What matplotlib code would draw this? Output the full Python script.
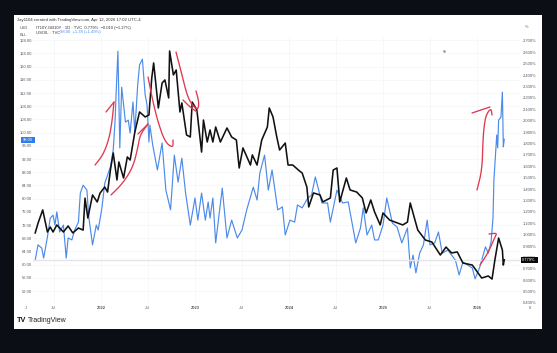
import numpy as np
import matplotlib
matplotlib.use('Agg')
import matplotlib.pyplot as plt
from matplotlib.lines import Line2D
from matplotlib.patches import Rectangle

W, H = 557, 353

oil_dates = [2021.30, 2021.33, 2021.37, 2021.39, 2021.43, 2021.46, 2021.49, 2021.51, 2021.53, 2021.56, 2021.60,
             2021.63, 2021.65, 2021.69, 2021.72, 2021.76, 2021.78, 2021.81, 2021.85, 2021.87, 2021.91, 2021.95,
             2021.97, 2022.01, 2022.04, 2022.10, 2022.13, 2022.15, 2022.16, 2022.18, 2022.20, 2022.22, 2022.26,
             2022.29, 2022.31, 2022.34, 2022.36, 2022.39, 2022.41, 2022.44, 2022.47, 2022.49, 2022.51, 2022.52,
             2022.55, 2022.60, 2022.65, 2022.69, 2022.74, 2022.78, 2022.82, 2022.86, 2022.90, 2022.95, 2023.00,
             2023.03, 2023.07, 2023.11, 2023.14, 2023.16, 2023.19, 2023.22, 2023.29, 2023.34, 2023.39, 2023.45,
             2023.50, 2023.55, 2023.62, 2023.66, 2023.69, 2023.74, 2023.78, 2023.82, 2023.88, 2023.93, 2023.96,
             2024.01, 2024.06, 2024.09, 2024.14, 2024.20, 2024.24, 2024.28, 2024.31, 2024.35, 2024.41, 2024.44,
             2024.51, 2024.57, 2024.63, 2024.71, 2024.76, 2024.79, 2024.83, 2024.88, 2024.91, 2024.95, 2025.00,
             2025.04, 2025.10, 2025.15, 2025.20, 2025.26, 2025.29, 2025.32, 2025.35, 2025.39, 2025.43, 2025.47,
             2025.50, 2025.55, 2025.59, 2025.63, 2025.69, 2025.77, 2025.81, 2025.85, 2025.95, 2025.98, 2026.03,
             2026.09, 2026.12, 2026.15, 2026.17, 2026.18, 2026.21, 2026.22, 2026.23, 2026.255, 2026.27, 2026.28,
             2026.29]
oil_price = [61.4, 66.0, 65.0, 62.0, 68.4, 74.1, 75.0, 72.0, 76.0, 69.9, 72.0,
             62.0, 68.1, 67.5, 70.5, 72.9, 81.7, 84.1, 82.6, 74.4, 66.0, 72.0,
             70.5, 77.2, 84.7, 89.6, 94.7, 103.8, 111.4, 124.7, 95.4, 113.8, 103.2,
             103.8, 99.9, 109.3, 100.2, 114.4, 120.5, 122.3, 111.4, 108.4, 97.2, 102.3,
             96.3, 88.7, 96.9, 82.6, 76.6, 93.2, 85.0, 92.3, 81.7, 72.0, 80.2,
             73.5, 81.7, 73.5, 79.0, 74.1, 80.2, 66.6, 83.2, 68.1, 73.5, 68.1,
             70.5, 76.6, 83.5, 79.6, 87.8, 93.2, 82.6, 88.7, 76.6, 77.5, 69.0,
             73.5, 72.9, 78.1, 77.2, 80.2, 81.1, 86.6, 83.2, 78.7, 78.7, 72.9,
             82.6, 78.7, 79.0, 66.6, 71.1, 77.2, 69.0, 72.0, 67.5, 67.5, 72.0,
             80.2, 72.6, 71.4, 66.6, 71.1, 59.0, 62.9, 57.5, 63.5, 66.0, 73.5,
             66.0, 66.6, 69.9, 63.5, 64.4, 61.4, 56.9, 60.8, 59.0, 55.7, 59.3,
             65.4, 63.5, 66.9, 74.1, 85.7, 99.3, 95.4, 103.8, 104.7, 112.3, 95.7,
             98.0]

spread_dates = [2021.30, 2021.33, 2021.38, 2021.43, 2021.46, 2021.49, 2021.53, 2021.60, 2021.65, 2021.70, 2021.76,
                2021.81, 2021.83, 2021.86, 2021.91, 2021.96, 2021.99, 2022.04, 2022.07, 2022.10, 2022.13, 2022.17,
                2022.19, 2022.24, 2022.28, 2022.31, 2022.36, 2022.39, 2022.41, 2022.47, 2022.51, 2022.54, 2022.56,
                2022.61, 2022.65, 2022.68, 2022.72, 2022.73, 2022.77, 2022.80, 2022.84, 2022.86, 2022.91, 2022.95,
                2022.97, 2023.02, 2023.07, 2023.09, 2023.13, 2023.16, 2023.19, 2023.22, 2023.27, 2023.34, 2023.39,
                2023.44, 2023.47, 2023.51, 2023.59, 2023.61, 2023.66, 2023.71, 2023.77, 2023.79, 2023.83, 2023.87,
                2023.90, 2023.96, 2023.99, 2024.04, 2024.10, 2024.14, 2024.19, 2024.21, 2024.26, 2024.33, 2024.36,
                2024.44, 2024.47, 2024.51, 2024.54, 2024.61, 2024.65, 2024.72, 2024.78, 2024.82, 2024.87, 2024.91,
                2024.97, 2025.00, 2025.07, 2025.21, 2025.26, 2025.29, 2025.34, 2025.37, 2025.45, 2025.52, 2025.61,
                2025.67, 2025.73, 2025.79, 2025.85, 2025.95, 2026.05, 2026.12, 2026.16, 2026.19, 2026.23, 2026.27,
                2026.28, 2026.29]
spread_pct = [1.015, 1.10, 1.217, 1.023, 1.067, 1.023, 1.085, 1.023, 1.076, 1.015, 1.058,
              1.04, 1.32, 1.146, 1.348, 1.287, 1.365, 1.418, 1.374, 1.567, 1.717, 1.48,
              1.638, 1.497, 1.682, 1.655, 1.90, 2.006, 2.077, 2.033, 2.05, 2.375, 2.507,
              2.112, 2.331, 2.358, 2.20, 2.612, 2.402, 2.445, 2.077, 2.156, 1.875, 1.857,
              2.164, 2.094, 1.725, 2.006, 1.813, 1.919, 1.813, 1.945, 1.813, 1.936, 1.857,
              1.831, 1.585, 1.761, 1.611, 1.70, 1.611, 1.831, 1.945, 2.112, 2.033, 1.857,
              1.743, 1.804, 1.611, 1.611, 1.567, 1.541, 1.418, 1.243, 1.366, 1.348, 1.287,
              1.322, 1.567, 1.585, 1.287, 1.497, 1.392, 1.374, 1.322, 1.19, 1.304, 1.20,
              1.085, 1.19, 1.128, 1.085, 1.11, 1.278, 1.128, 1.04, 0.953, 0.935, 0.821,
              0.891, 0.839, 0.848, 0.751, 0.733, 0.619, 0.637, 0.61, 0.777, 0.97, 0.865,
              0.733, 0.779]

x_ticks = [2021.5, 2022, 2022.5, 2023, 2023.5, 2024, 2024.5, 2025, 2025.5, 2026]
x_labels = ['Jul', '2022', 'Jul', '2023', 'Jul', '2024', 'Jul', '2025', 'Jul', '2026']
left_ticks = list(range(52, 129, 4))
right_ticks = [0.4, 0.5, 0.6, 0.7, 0.8, 0.9, 1.0, 1.1, 1.2, 1.3, 1.4, 1.5, 1.6, 1.7, 1.8, 1.9, 2.0, 2.1, 2.2, 2.3,
               2.4, 2.5, 2.6, 2.7]

# hand drawn strokes on the screenshot, in image pixels
strokes = [
    [(95, 165), (103, 155), (109, 139), (112, 122), (114, 102)],
    [(106, 112), (114, 102)],
    [(111, 195), (123, 183), (133, 167), (138, 147), (140, 135), (148, 124)],
    [(138, 134), (148, 124)],
    [(148, 77), (153, 102), (158, 122), (165, 142), (173, 148), (173, 140)],
    [(176, 52), (182, 75), (187, 95), (192, 105), (198, 110), (199, 102), (196, 91)],
    [(183, 100), (190, 107), (197, 112)],
    [(477, 190), (482, 170), (483, 140), (484, 127), (486, 115), (491, 108), (492, 115)],
    [(472, 113), (490, 107)],
    [(480, 265), (488, 253), (495, 237), (497, 233), (489, 234)],
]

DARK = '#0b0e14'
BLUE = '#4c8bea'
RED = '#e0384f'
GREY = '#555a63'


def fx(px):
    return px / W


def fy(py):
    return 1 - py / H


def chaikin(pts, n=2):
    pts = np.array(pts, float)
    for _ in range(n):
        q = 0.75*pts[:-1] + 0.25*pts[1:]
        r = 0.25*pts[:-1] + 0.75*pts[1:]
        mid = np.empty((2*len(q), 2))
        mid[0::2] = q
        mid[1::2] = r
        pts = np.vstack([pts[0], mid, pts[-1]])
    return pts


def ftext(px, py, s, size=2.9, color=GREY, ha='left', **kw):
    return fig.text(fx(px), fy(py), s, fontsize=size, color=color, ha=ha, va='center', **kw)


plt.rcParams['font.family'] = ['Liberation Sans', 'DejaVu Sans']

fig = plt.figure(figsize=(W/100, H/100), dpi=100, facecolor=DARK)
fig.add_artist(Rectangle((fx(14), fy(329)), (542-14)/W, (329-15)/H, transform=fig.transFigure,
                         facecolor='white', edgecolor='none', zorder=-5))

ax = fig.add_axes([fx(33), fy(304), (520-33)/W, (304-37)/H], facecolor='none')
ax.set_xlim(2022 + (33-101)/94, 2022 + (520-101)/94)
ax.set_ylim(48.08, 129.0)
for s in ax.spines.values():
    s.set_visible(False)
ax.set_xticks(x_ticks)
ax.set_xticklabels(x_labels)
ax.set_yticks(left_ticks)
ax.set_yticklabels(['%.2f' % v for v in left_ticks])
ax.tick_params(axis='both', length=0, labelsize=3.0, labelcolor=GREY)
ax.tick_params(axis='x', pad=1.5)
ax.tick_params(axis='y', pad=1)
for lab in ax.get_xticklabels():
    lab.set_fontweight('bold' if lab.get_text().startswith('20') else 'normal')
ax.grid(True, color='#f4f5f7', lw=0.5)
ax.set_axisbelow(True)

ax2 = ax.twinx()
ax2.set_facecolor('none')
ax2.set_ylim(0.391, 2.735)
for s in ax2.spines.values():
    s.set_visible(False)
ax2.set_yticks(right_ticks)
ax2.set_yticklabels(['%.3f%%' % v for v in right_ticks])
ax2.tick_params(axis='y', length=0, labelsize=3.0, labelcolor=GREY, pad=2.2)

ax2.axhline(spread_pct[-1], color='#e4e5e8', lw=1.0, zorder=1)
ax.plot(oil_dates, oil_price, color=BLUE, lw=0.85, solid_joinstyle='round')
ax2.plot(spread_dates, spread_pct, color='#111111', lw=1.15, solid_joinstyle='round', zorder=3)

for st in strokes:
    p = chaikin(st) if len(st) > 2 else np.array(st, float)
    fig.add_artist(Line2D(fx(p[:, 0]), fy(p[:, 1]), transform=fig.transFigure, color=RED, lw=0.95,
                          solid_capstyle='round', zorder=6))

# header
ftext(17, 19.7, 'Jay1104 created with TradingView.com, Apr 12, 2026 17:02 UTC-4', size=3.1, color='#333333')
ftext(20, 27.7, 'USD')
ftext(20, 34.8, 'BLL')
ftext(36.5, 27.5, 'IT10Y-GB10Y · 1D · TVC  0.779%  −0.010 (−1.27%)', size=3.0, color='#333333')
ftext(36.5, 32.5, 'USOIL · TVC', size=3.0, color='#333333')
ftext(59.5, 32.5, '98.00  +1.38 (+1.49%)', size=3.0, color=BLUE)
ftext(525, 27.5, '%')

# last value tags
fig.add_artist(Rectangle((fx(20.5), fy(142.5)), 14/W, 6/H, transform=fig.transFigure, facecolor='#2f7bf0',
                         edgecolor='none', zorder=7))
ftext(27.5, 139.6, '98.00', color='white', ha='center', zorder=8)
fig.add_artist(Rectangle((fx(520.5), fy(263.2)), 17/W, 6.4/H, transform=fig.transFigure, facecolor='#0a0a0a',
                         edgecolor='none', zorder=7))
ftext(529, 260, '0.779%', color='white', ha='center', zorder=8)

ftext(26, 308, 'J', ha='center')
ftext(530, 308, '0', ha='center')
fig.add_artist(Line2D([fx(444)], [fy(50.5)], transform=fig.transFigure, marker='o', ms=0.9, color='#999999', ls=''))

# watermark
ftext(17, 320.5, 'TV', size=5.2, color='#111111', fontweight='bold')
ftext(28, 320.5, 'TradingView', size=5.0, color='#222222')

fig.savefig('out.png', dpi=100, facecolor=DARK)
